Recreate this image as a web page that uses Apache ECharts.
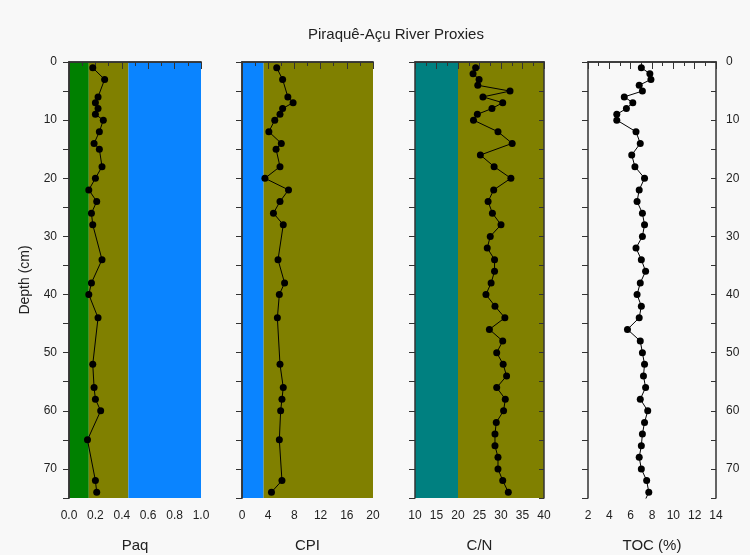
<!DOCTYPE html>
<html>
<head>
<meta charset="utf-8">
<script src="https://cdn.jsdelivr.net/npm/echarts@6/dist/echarts.min.js"></script>
<style>
  html, body { margin: 0; padding: 0; background: #f8f8f8; }
  #chart { width: 750px; height: 555px; }
</style>
</head>
<body>
<div id="chart"></div>
<script>
// depths (cm) for Paq / CPI samples
const depthA = [1, 3, 6, 7, 8, 9, 10, 12, 14, 15, 18, 20, 22, 24, 26, 28, 34, 38, 40, 44, 52, 56, 58, 60, 65, 72, 74]
const paq = [0.18, 0.27, 0.22, 0.20, 0.22, 0.20, 0.26, 0.23, 0.19, 0.23, 0.25, 0.20, 0.15, 0.21, 0.17, 0.18, 0.25, 0.17, 0.15, 0.22, 0.18, 0.19, 0.20, 0.24, 0.14, 0.20, 0.21]
const cpi = [5.3, 6.2, 7.0, 7.8, 6.2, 5.8, 5.0, 4.1, 6.0, 5.2, 5.8, 3.5, 7.1, 5.8, 4.8, 6.3, 5.5, 6.5, 5.7, 5.4, 5.8, 6.3, 6.1, 5.9, 5.7, 6.1, 4.5]

// depths (cm) for C/N samples
const depthB = [1, 2, 3, 4, 5, 6, 7, 8, 9, 10, 12, 14, 16, 18, 20, 22, 24, 26, 28, 30, 32, 34, 36, 38, 40,
  42, 44, 46, 48, 50, 52, 54, 56, 58, 60, 62, 64, 66, 68, 70, 72, 74]
const cn = [24.1, 23.5, 24.9, 24.6, 32.1, 25.8, 30.4, 27.9, 24.5, 23.6,
  29.3, 32.6, 25.2, 28.4, 32.3, 28.3, 27.0, 28.0, 30.0, 27.5, 26.8, 28.5, 28.5, 27.7, 26.5,
  28.6, 30.9, 27.3, 30.4, 29.0, 30.5, 31.3, 29.0, 31.0, 30.6, 28.9, 28.6, 28.6, 29.3, 29.3, 30.4, 31.7]

// TOC has one more sample below the axis range
const depthC = [1, 2, 3, 4, 5, 6, 7, 8, 9, 10, 12, 14, 16, 18, 20, 22, 24, 26, 28, 30, 32, 34, 36, 38, 40,
  42, 44, 46, 48, 50, 52, 54, 56, 58, 60, 62, 64, 66, 68, 70, 72, 74, 76]
const toc = [7.0, 7.8, 7.9, 6.8, 7.1, 5.4, 6.2, 5.6, 4.7, 4.7,
  6.5, 6.9, 6.1, 6.4, 7.3, 6.8, 6.6, 7.1, 7.3, 7.1, 6.5, 7.0, 7.4, 6.9, 6.6,
  7.0, 6.8, 5.7, 6.9, 7.1, 7.3, 7.2, 7.4, 6.9, 7.6, 7.3, 7.1, 7.0, 6.8, 7.0, 7.5, 7.7, 7.2]

// background zones [from, to, colour]
const paqZones = [[0, 0.15, '#008000'], [0.15, 0.45, '#808000'], [0.45, 1.0, '#0a84ff']]
const cpiZones = [[0, 3.3, '#0a84ff'], [3.3, 20, '#808000']]
const cnZones = [[10, 20, '#008080'], [20, 40, '#808000']]
const tocZones = []

const FONT = '"Liberation Sans", Arial, sans-serif'
const AXIS_COLOR = '#333'

const panels = [
  { name: 'Paq', left: 69, width: 132, min: 0, max: 1, major: 0.2, depth: depthA, values: paq, zones: paqZones,
    fmt: (v) => v.toFixed(1) },
  { name: 'CPI', left: 242, width: 131, min: 0, max: 20, major: 4, depth: depthA, values: cpi, zones: cpiZones,
    fmt: (v) => String(v) },
  { name: 'C/N', left: 415, width: 129, min: 10, max: 40, major: 5, depth: depthB, values: cn, zones: cnZones,
    fmt: (v) => String(v) },
  { name: 'TOC (%)', left: 588, width: 128, min: 2, max: 14, major: 2, depth: depthC, values: toc, zones: tocZones,
    fmt: (v) => String(v) },
]

const chart = echarts.init(document.getElementById('chart'))

const grid = []
const xAxis = []
const yAxis = []
const series = []

const frame = { show: true, lineStyle: { color: AXIS_COLOR, width: 1.5 } }
const depthLabel = (v) => (v % 10 === 0 ? String(v) : '')

panels.forEach((p, i) => {
  grid.push({ left: p.left, top: 62, width: p.width, height: 436, containLabel: false, outerBoundsMode: 'none' })

  // bottom axis with labels
  xAxis.push({
    gridIndex: i,
    type: 'value',
    position: 'bottom',
    min: p.min,
    max: p.max,
    interval: p.major,
    z: 3,
    name: p.name,
    nameLocation: 'middle',
    nameGap: 40,
    nameTextStyle: { fontFamily: FONT, fontSize: 15, color: '#222' },
    axisLine: frame,
    axisTick: { show: true, inside: false, length: 6, lineStyle: { color: AXIS_COLOR } },
    minorTick: { show: true, splitNumber: 2, length: 4, lineStyle: { color: AXIS_COLOR } },
    splitLine: { show: false },
    axisLabel: { margin: 12, fontFamily: FONT, fontSize: 12, color: '#222', formatter: p.fmt },
  })
  // top axis, ticks only
  xAxis.push({
    gridIndex: i,
    type: 'value',
    position: 'top',
    min: p.min,
    max: p.max,
    interval: p.major,
    z: 3,
    axisLine: frame,
    axisTick: { show: true, inside: true, length: 7, lineStyle: { color: AXIS_COLOR } },
    minorTick: { show: true, splitNumber: 2, length: 4, lineStyle: { color: AXIS_COLOR } },
    splitLine: { show: false },
    axisLabel: { show: false },
  })

  // left depth axis
  yAxis.push({
    gridIndex: i,
    type: 'value',
    position: 'left',
    inverse: true,
    min: 0,
    max: 75,
    interval: 5,
    z: 3,
    name: i === 0 ? 'Depth (cm)' : '',
    nameLocation: 'middle',
    nameGap: 37,
    nameTextStyle: { fontFamily: FONT, fontSize: 14, color: '#222' },
    axisLine: frame,
    axisTick: { show: true, inside: false, length: 6, lineStyle: { color: AXIS_COLOR } },
    splitLine: { show: false },
    axisLabel: { show: i === 0, margin: 12, fontFamily: FONT, fontSize: 12, color: '#222', formatter: depthLabel },
  })
  // right depth axis
  yAxis.push({
    gridIndex: i,
    type: 'value',
    position: 'right',
    inverse: true,
    min: 0,
    max: 75,
    interval: 5,
    z: 3,
    axisLine: frame,
    axisTick: { show: true, inside: true, length: 5, lineStyle: { color: AXIS_COLOR } },
    splitLine: { show: false },
    axisLabel: { show: i === 3, margin: 10, fontFamily: FONT, fontSize: 12, color: '#222', formatter: depthLabel },
  })

  // background zones
  if (p.zones.length) {
    series.push({
      type: 'line',
      xAxisIndex: i * 2,
      yAxisIndex: i * 2,
      data: [],
      z: 1,
      silent: true,
      markArea: {
        silent: true,
        data: p.zones.map((zn) => [
          { xAxis: zn[0], itemStyle: { color: zn[2], opacity: 1 } },
          { xAxis: zn[1] },
        ]),
      },
    })
  }

  // profile
  series.push({
    type: 'line',
    name: p.name,
    xAxisIndex: i * 2,
    yAxisIndex: i * 2,
    z: 4,
    clip: true,
    data: p.values.map((v, k) => [v, p.depth[k]]),
    symbol: 'circle',
    symbolSize: 7,
    itemStyle: { color: '#000' },
    lineStyle: { color: '#000', width: 1 },
  })
})

chart.setOption({
  backgroundColor: '#f8f8f8',
  animation: false,
  title: {
    text: 'Piraquê-Açu River Proxies',
    left: 303,
    top: 22,
    textStyle: { fontFamily: FONT, fontSize: 15, fontWeight: 'normal', color: '#222' },
  },
  grid,
  xAxis,
  yAxis,
  series,
})
</script>
</body>
</html>
